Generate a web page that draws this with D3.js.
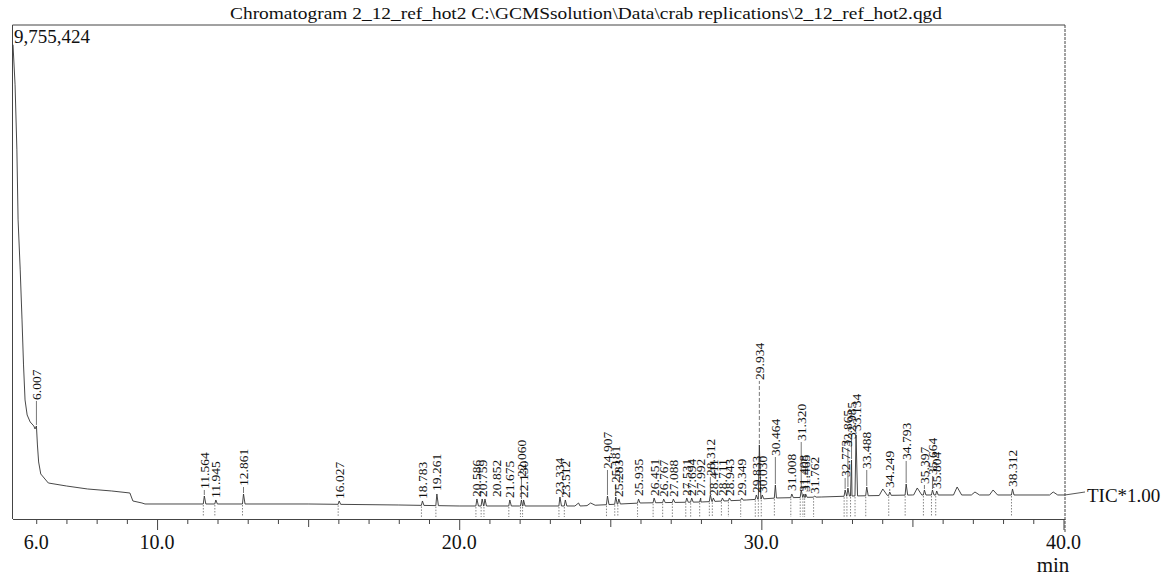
<!DOCTYPE html>
<html>
<head>
<meta charset="utf-8">
<script src="https://cdn.jsdelivr.net/npm/d3@7"></script>
<style>
  html, body { margin: 0; padding: 0; background: #fff; }
  svg { display: block; }
  text { font-family: "Liberation Serif", "Times New Roman", serif; fill: #111; }
</style>
</head>
<body>
<svg id="chart" width="1162" height="577"></svg>
<script>
// ---- data -------------------------------------------------------------
const titleText = "Chromatogram 2_12_ref_hot2 C:\\GCMSsolution\\Data\\crab replications\\2_12_ref_hot2.qgd";
const maxIntensity = 9755424;
const traceName = "TIC*1.00";
const axisUnit = "min";
const tickValues = [6, 10, 20, 30, 40];
const tickLabels = ["6.0", "10.0", "20.0", "30.0", "40.0"];

// solvent front and its tail (time in min, intensity)
const solventTimes  = [5.232, 5.30, 5.36, 5.40, 5.47, 5.53, 5.58, 5.63, 5.70, 5.80, 5.92, 5.96, 6.04, 6.08, 6.15, 6.4, 7.0, 7.7, 8.5, 9.1, 9.2, 9.5];
const solventValues = [9340000, 8540000, 7240000, 5840000, 4840000, 3840000, 2940000, 2240000, 1940000, 1800000, 1720000, 1660000, 1340000, 1000000, 760000, 580000, 520000, 460000, 420000, 380000, 220000, 180000];

// baseline level after the solvent tail
const baseTimes  = [9.6, 12, 15, 18, 20, 22, 24, 26, 28, 29.5, 30.5, 32, 33, 35, 40.05];
const baseValues = [160000, 160000, 160000, 140000, 120000, 120000, 120000, 180000, 200000, 240000, 280000, 300000, 320000, 340000, 340000];

// integrated peaks: retention time (min) and apex intensity
const peakTimes = [6.007, 11.564, 11.945, 12.861, 16.027, 18.783, 19.261, 20.586, 20.759, 20.852,
  21.675, 22.060, 22.130, 23.334, 23.512, 24.907, 25.181, 25.283, 25.935, 26.451,
  26.767, 27.088, 27.531, 27.694, 27.992, 28.312, 28.411, 28.711, 28.943, 29.349,
  29.833, 29.934, 30.030, 30.464, 31.008, 31.320, 31.408, 31.465, 31.762, 32.773,
  32.865, 32.985, 33.134, 33.488, 34.249, 34.793, 35.397, 35.664, 35.804, 38.312];
const peakApex = [1720000, 320000, 240000, 360000, 220000, 220000, 360000, 260000, 260000, 260000,
  240000, 240000, 240000, 300000, 240000, 320000, 300000, 260000, 260000, 280000,
  260000, 260000, 280000, 280000, 280000, 340000, 280000, 280000, 280000, 280000,
  340000, 1340000, 340000, 540000, 360000, 440000, 360000, 360000, 320000, 440000,
  480000, 1040000, 1540000, 500000, 400000, 560000, 440000, 440000, 420000, 460000];

// small unlabelled bumps on the baseline
const bumpTimes = [23.95, 24.35, 34.02, 35.16, 36.48, 37.07, 37.67, 39.66];
const bumpApex  = [180000, 180000, 460000, 480000, 500000, 400000, 440000, 400000];

// ---- layout ------------------------------------------------------------
// vertical gap (px) between each peak apex and the foot of its label
const labelLift = [25, 6, 1, 7, 1, 1, 2, 1, 1, 1,
  1, 22, 1, 1, 1, 26, 13, 1, 2, 1,
  1, 1, 1, 1, 1, 18, 1, 1, 1, 1,
  1, 64, 1, 28, 2, 48, 1, 1, 1, 12,
  40, 20, 3, 17, 3, 23, 5, 14, 1, 1];
// horizontal nudge (px) of a few labels
const labelShift = { "20.852": 12 };

const svg = d3.select("#chart");
const plotLeft = 12.5, plotRight = 1065, plotTop = 25, axisY = 519;

const x = d3.scaleLinear().domain([5.215, 40.05]).range([plotLeft, plotRight]);
const y = d3.scaleLinear().domain([0, maxIntensity]).range([512, 24]);
const base = d3.scaleLinear().domain(baseTimes).range(baseValues).clamp(true);
const fmt = d3.format(".3f");

// ---- frame -------------------------------------------------------------
const frame = svg.append("g").attr("stroke", "#444").attr("stroke-width", 1).attr("fill", "none");
frame.append("line").attr("x1", plotLeft).attr("x2", plotRight).attr("y1", plotTop).attr("y2", plotTop);
frame.append("line").attr("x1", plotLeft).attr("x2", plotLeft).attr("y1", plotTop).attr("y2", axisY);
frame.append("line").attr("x1", plotRight).attr("x2", plotRight).attr("y1", plotTop).attr("y2", 533)
  .attr("stroke-dasharray", "3,1");

// ---- time axis ---------------------------------------------------------
const minorTicks = d3.range(6, 41);
const axis = d3.axisBottom(x).tickValues(minorTicks).tickSize(5).tickFormat("").tickSizeOuter(0);
const axisG = svg.append("g").attr("transform", `translate(0,${axisY})`).call(axis);
axisG.select(".domain").attr("stroke", "#444");
axisG.selectAll(".tick line").attr("stroke", "#444")
  .attr("y2", d => d % 10 === 0 ? 11 : (d % 5 === 0 ? 8 : 5));

svg.append("g").selectAll("text").data(tickValues).join("text")
  .attr("x", d => x(d)).attr("y", 549)
  .attr("text-anchor", "middle").attr("font-size", 20)
  .text((d, i) => tickLabels[i]);

svg.append("text").attr("x", 1053).attr("y", 572).attr("text-anchor", "middle")
  .attr("font-size", 21).text(axisUnit);

// ---- titles ------------------------------------------------------------
svg.append("text").attr("x", 230).attr("y", 19)
  .attr("font-size", 17)
  .attr("textLength", 712).attr("lengthAdjust", "spacingAndGlyphs")
  .text(titleText);
svg.append("text").attr("x", 14).attr("y", 43).attr("font-size", 19)
  .text(d3.format(",")(maxIntensity));

// ---- trace -------------------------------------------------------------
const pts = solventTimes.map((t, i) => [t, solventValues[i]]);
baseTimes.forEach((t, i) => pts.push([t, baseValues[i]]));
function addPeak(t, v, wl, wr) {
  if (t < 9.5) { pts.push([t, v]); return; }
  pts.push([t - wl, base(t - wl)], [t, v], [t + wr, base(t + wr)]);
}
peakTimes.forEach((t, i) => addPeak(t, peakApex[i], 0.035, 0.05));
bumpTimes.forEach((t, i) => addPeak(t, bumpApex[i], 0.12, 0.15));
pts.sort((a, b) => a[0] - b[0]);

svg.append("path").datum(pts)
  .attr("fill", "none").attr("stroke", "#333").attr("stroke-width", 0.9)
  .attr("d", d3.line().x(d => x(d[0])).y(d => y(d[1])));

// connector to the trace name
const lastT = baseTimes[baseTimes.length - 1];
svg.append("line").attr("x1", x(lastT)).attr("y1", y(base(lastT)))
  .attr("x2", 1085).attr("y2", y(base(lastT)) - 3)
  .attr("stroke", "#444").attr("stroke-width", 0.9);
svg.append("text").attr("x", 1087).attr("y", 502).attr("font-size", 19).text(traceName);

// ---- peak marks --------------------------------------------------------
const peaks = peakTimes.map((t, i) => ({ t, v: peakApex[i], lift: labelLift[i], label: fmt(t) }));

// integration markers under each peak
svg.append("g").selectAll("line").data(peaks.filter(p => p.t > 9.5)).join("line")
  .attr("x1", p => x(p.t) - 1).attr("x2", p => x(p.t) - 1)
  .attr("y1", p => y(base(p.t)) + 1).attr("y2", 517)
  .attr("stroke", "#666").attr("stroke-width", 0.8).attr("stroke-dasharray", "1.5,1.5");

// leaders from apex to label
svg.append("g").selectAll("line").data(peaks.filter(p => p.lift > 2)).join("line")
  .attr("x1", p => x(p.t)).attr("x2", p => x(p.t) + (labelShift[p.label] || 0))
  .attr("y1", p => y(p.v) - 1).attr("y2", p => y(p.v) - p.lift)
  .attr("stroke", "#555").attr("stroke-width", 0.8)
  .attr("stroke-dasharray", p => p.lift > 50 ? "4,2" : null);

// rotated retention-time labels
svg.append("g").selectAll("text").data(peaks).join("text")
  .attr("transform", p => `translate(${x(p.t) + (labelShift[p.label] || 0)},${y(p.v) - p.lift - 1}) rotate(-90)`)
  .attr("dominant-baseline", "central")
  .attr("font-size", 13.5)
  .text(p => p.label);
</script>
</body>
</html>
